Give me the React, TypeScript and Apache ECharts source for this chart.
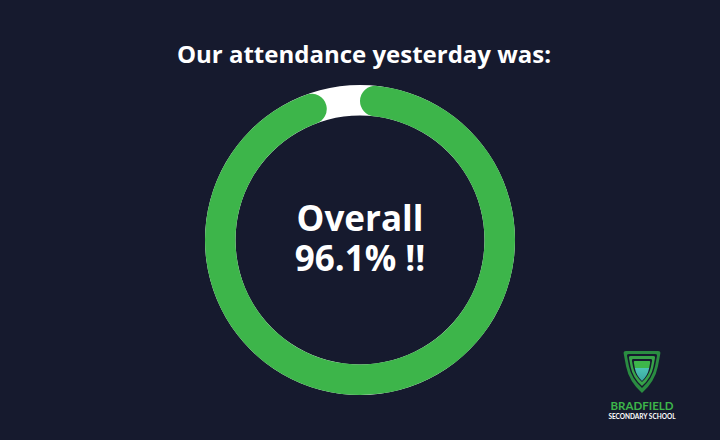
import React, { useEffect, useRef } from "react";
import * as echarts from "echarts";

const headline = "Our attendance yesterday was:";
const centerLabel = "Overall";
const sliceNames = ["Present", "Absent"];
const sliceValues = [96.1, 3.9];
const brandName = "BRADFIELD";
const brandSub = "SECONDARY SCHOOL";

const BG = "#161a2e";
const GREEN = "#3db54a";

const SHIELD_D =
  "M8,0 L92,0 Q100,0 98,8 L92,40 Q84,80 50,110 Q16,80 8,40 L2,8 Q0,0 8,0 Z";

let registered = false;
function ensureShape() {
  if (registered) return;
  echarts.graphic.registerShape("shield", echarts.graphic.extendPath(SHIELD_D, {}) as any);
  registered = true;
}

function shield(cx: number, top: number, w: number, h: number, fill: any) {
  return {
    type: "shield",
    x: cx - w / 2,
    y: top,
    scaleX: w / 100,
    scaleY: h / 110,
    silent: true,
    style: { fill },
  };
}

export default function App() {
  const ref = useRef<HTMLDivElement>(null);
  useEffect(() => {
    if (!ref.current) return;
    ensureShape();
    const chart = echarts.init(ref.current, undefined, { renderer: "svg" });
    const cx = 360;
    const cy = 240;
    const r0 = 124.5;
    const r1 = 155;
    const innerGrad = new echarts.graphic.LinearGradient(0, 0, 0, 1, [
      { offset: 0, color: "#3db54a" },
      { offset: 0.33, color: "#3db54a" },
      { offset: 0.34, color: "#4cc4b4" },
      { offset: 1, color: "#3aa6a0" },
    ]);
    const lx = 642;
    chart.setOption({
      animation: false,
      backgroundColor: BG,
      series: [
        {
          type: "pie",
          z: 1,
          silent: true,
          center: [cx, cy],
          radius: [r0, r1],
          label: { show: false },
          labelLine: { show: false },
          emphasis: { disabled: true },
          data: [{ value: 1, name: "track", itemStyle: { color: "#ffffff" } }],
        },
        {
          type: "pie",
          z: 2,
          silent: true,
          center: [cx, cy],
          radius: [r0, r1],
          startAngle: 90,
          clockwise: true,
          label: { show: false },
          labelLine: { show: false },
          emphasis: { disabled: true },
          itemStyle: { borderRadius: 16 },
          data: sliceNames.map((n, i) => ({
            name: n,
            value: sliceValues[i],
            itemStyle: { color: i === 0 ? GREEN : "rgba(0,0,0,0)" },
          })),
        },
      ],
      graphic: [
        {
          type: "text",
          x: 364,
          y: 53.5,
          silent: true,
          style: {
            text: headline,
            fill: "#ffffff",
            font: "bold 24px 'Open Sans'",
            align: "center",
            verticalAlign: "middle",
          },
        },
        {
          type: "text",
          x: cx,
          y: 237.5,
          silent: true,
          style: {
            text: `${centerLabel}\n${sliceValues[0]}% !!`,
            fill: "#ffffff",
            fontFamily: "'Open Sans'",
            fontWeight: "bold",
            fontSize: 35,
            lineHeight: 40,
            align: "center",
            verticalAlign: "middle",
          },
        },
        shield(lx, 351, 38, 42, "#2a8c41"),
        shield(lx, 354, 31, 34, BG),
        shield(lx, 356, 27, 30, "#37a348"),
        shield(lx, 359, 21, 23, BG),
        shield(lx, 361, 17, 20, innerGrad),
        {
          type: "text",
          x: lx,
          y: 405,
          silent: true,
          style: {
            text: brandName,
            fill: GREEN,
            font: "bold 11.5px Lato",
            align: "center",
            verticalAlign: "middle",
          },
        },
        {
          type: "text",
          x: lx,
          y: 416,
          silent: true,
          style: {
            text: brandSub,
            fill: "#ffffff",
            font: "bold 6.5px Lato",
            align: "center",
            verticalAlign: "middle",
          },
        },
      ],
    });
    return () => chart.dispose();
  }, []);
  return (
    <div
      ref={ref}
      style={{ position: "fixed", left: 0, top: 0, width: 720, height: 440 }}
    />
  );
}
